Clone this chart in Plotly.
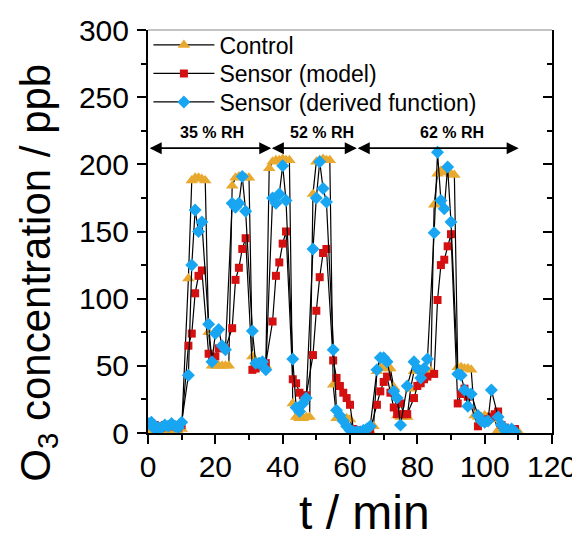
import plotly.graph_objects as go

# ---------------- data ----------------
ctrl_t = [0,1,2,3,4,5,6,7,8,9,10,12,13,14,15,16,17,18,19,20,21,22,23,24,25,26,27,28,29,30,31,32,33,34,35,
          36,37,38,39,40,41,42,43,44,45,46,47,48,49,50,51,52,53,54,55,56,57,58,59,60,61,62,63,64,65,66,
          67,68,69,70,71,72,73,74,75,76,77,78,79,80,81,82,83,84,85,86,87,88,89,90,91,92,93,94,95,96,97,
          98,99,100,101,102,103,104,105,106,107,108,109,110]
ctrl_v = [2,1,1,2,1,1,1,2,1,1,3,115,188,190,190,189,188,75,50,50,50,50,50,50,184,190,191,191,190,190,57,52,50,50,50,
          197,202,203,203,204,203,203,22,12,11,11,12,12,178,202,203,204,203,203,36,11,11,11,11,10,1,0,0,0,1,1,
          5,46,49,49,48,48,34,13,12,12,12,33,46,47,47,46,46,46,170,193,195,195,194,193,192,49,49,48,48,47,13,
          12,12,13,12,12,10,2,1,1,1,2,1,1]

model_t = [0,1,2,3,4,5,6,7,8,9,10,12,13,14,15,16,18,19,20,21,22,23,25,26,27,28,29,31,32,33,34,35,
           37,38,39,40,41,43,44,45,46,47,49,50,51,52,53,55,56,57,58,59,60,61,62,63,64,65,66,
           68,69,70,71,72,73,74,75,76,77,79,80,81,82,83,85,86,87,88,89,90,92,93,94,95,
           98,99,100,101,102,103,104,105,106,107,108,109]
model_v = [7,7,6,5,4,6,5,5,6,4,6,65,74,104,117,121,59,55,57,63,64,63,78,114,123,137,145,47,48,50,50,52,
           83,117,127,141,150,40,37,30,28,28,58,91,116,134,137,54,41,35,30,26,21,3,2,1,1,2,2,
           21,31,38,42,30,19,14,22,14,14,26,35,37,40,42,44,99,125,129,139,148,22,29,33,27,
           5,8,10,10,12,14,16,6,4,3,3,3]

deriv_t = [0,1,2,3,4,5,6,7,8,9,10,12,13,14,15,16,18,19,20,21,22,23,25,26,27,28,29,31,32,33,34,35,
           37,38,39,40,41,43,44,45,46,47,49,50,51,52,53,55,56,57,58,59,60,61,62,63,64,65,66,
           68,69,70,71,73,74,75,77,79,80,81,82,83,85,86,87,88,89,90,92,93,94,95,96,
           98,99,100,101,102,104,105,106,107,108,109]
deriv_v = [7,8,3,4,4,6,5,7,5,4,8,43,125,166,150,157,81,53,74,77,65,62,171,168,171,191,165,76,52,52,53,47,
           175,171,178,199,173,55,19,16,22,26,137,175,202,182,172,62,17,13,9,5,2,1,1,1,2,3,5,
           47,56,56,53,31,26,6,35,53,48,41,48,55,149,209,173,167,198,157,44,43,32,20,29,
           13,9,8,9,32,12,6,2,2,3,1]

series_names = ["Control", "Sensor (model)", "Sensor (derived function)"]
rh_labels = ["35 % RH", "52 % RH", "62 % RH"]
rh_label_t = [19.0, 51.8, 90.3]
rh_seg = [(0.5, 36.6), (36.8, 62.0), (62.3, 110.1)]
rh_label_y = 224
rh_arrow_y = 212

# ---------------- figure ----------------
fig = go.Figure()
line_style = dict(color="black", width=1.2)
fig.add_trace(go.Scatter(x=ctrl_t, y=ctrl_v, mode="lines+markers", name=series_names[0],
                         line=line_style, legend="legend",
                         marker=dict(symbol="triangle-up", size=11, color="#E8A92E")))
fig.add_trace(go.Scatter(x=model_t, y=model_v, mode="lines+markers", name=series_names[1],
                         line=line_style, legend="legend2",
                         marker=dict(symbol="square", size=8, color="#D41010")))
fig.add_trace(go.Scatter(x=deriv_t, y=deriv_v, mode="lines+markers", name=series_names[2],
                         line=line_style, legend="legend3",
                         marker=dict(symbol="diamond", size=10, color="#18A6F2")))
# dummy trace to make right axis render
fig.add_trace(go.Scatter(x=[0], y=[0], yaxis="y2", mode="markers", marker=dict(opacity=0),
                         showlegend=False, hoverinfo="skip"))

annotations = []
for lab, xt in zip(rh_labels, rh_label_t):
    annotations.append(dict(x=xt, y=rh_label_y, xref="x", yref="y", text="<b>%s</b>" % lab,
                            showarrow=False, font=dict(family="Liberation Sans", size=16, color="black")))
for a, b in rh_seg:
    for tip, tail in ((b, a), (a, b)):
        annotations.append(dict(x=tip, y=rh_arrow_y, ax=tail, ay=rh_arrow_y, xref="x", yref="y",
                                axref="x", ayref="y", text="", showarrow=True, arrowhead=2,
                                arrowsize=1.6, arrowwidth=1.5, arrowcolor="black", standoff=0))
# axis titles
annotations.append(dict(x=0.537, y=-0.2675, xref="paper", yref="paper", text="t / min", showarrow=False,
                        font=dict(family="Liberation Sans", size=48, color="black"),
                        xanchor="center", yanchor="bottom"))
annotations.append(dict(x=-0.272, y=0.398, xref="paper", yref="paper",
                        text="O<sub>3</sub> concentration / ppb", showarrow=False, textangle=-90,
                        font=dict(family="Liberation Sans", size=42, color="black"),
                        xanchor="center", yanchor="middle"))

leg_common = dict(x=0.001, xanchor="left", yanchor="middle", bgcolor="rgba(0,0,0,0)",
                  font=dict(size=23, color="black"), itemwidth=61)
# legend row centres at page pixel y 45, 73, 102 -> paper coords (plot top 30, height ~403)
def pyc(p):
    return 1 - (p - 30) / 403.0

# page body has an 8 px margin: figure is offset by 8 px, so size/margins compensate
fig.update_layout(
    width=572, height=533,
    margin=dict(l=140, r=28, t=22, b=108, autoexpand=False),
    plot_bgcolor="white", paper_bgcolor="white",
    font=dict(family="Liberation Sans", color="black"),
    showlegend=True,
    legend=dict(y=pyc(45), **leg_common),
    legend2=dict(y=pyc(73.5), **leg_common),
    legend3=dict(y=pyc(102), **leg_common),
    xaxis=dict(range=[0, 120], showgrid=False, zeroline=False, showline=True, linecolor="black",
               linewidth=2, ticks="outside", ticklen=9, tickwidth=2, tickcolor="black", dtick=20,
               tick0=0, tickfont=dict(size=30, color="black"), ticklabelstandoff=-3, automargin=False,
               minor=dict(dtick=10, ticks="outside", ticklen=5, tickwidth=2, tickcolor="black")),
    yaxis=dict(range=[0, 300], showgrid=False, zeroline=False, showline=True, linecolor="black",
               linewidth=2, ticks="outside", ticklen=9, tickwidth=2, tickcolor="black", dtick=50,
               tick0=0, tickfont=dict(size=30, color="black"), ticklabelstandoff=2, automargin=False,
               minor=dict(dtick=25, ticks="outside", ticklen=5, tickwidth=2, tickcolor="black")),
    yaxis2=dict(range=[0, 300], overlaying="y", side="right", anchor="x", showgrid=False,
                zeroline=False, showline=True, linecolor="black", linewidth=2, ticks="inside",
                ticklen=9, tickwidth=2, tickcolor="black", dtick=50, tick0=0, showticklabels=False,
                automargin=False,
                minor=dict(dtick=25, ticks="inside", ticklen=5, tickwidth=2, tickcolor="black")),
    annotations=annotations,
    shapes=[dict(type="line", xref="paper", yref="paper", x0=0, x1=1, y0=1, y1=1,
                 line=dict(color="#888888", width=1.2))],
)

fig.write_html("out.html")
